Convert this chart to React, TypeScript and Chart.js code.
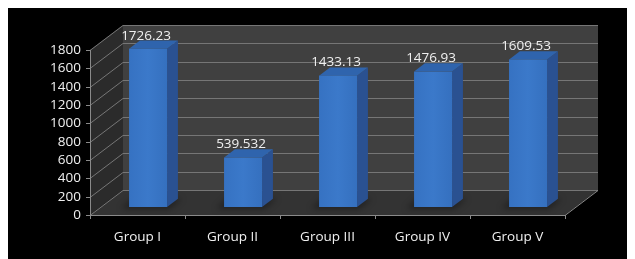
import React, { useEffect, useRef } from "react";
import { Chart, registerables } from "chart.js";

Chart.register(...registerables);

const categories = ["Group I", "Group II", "Group III", "Group IV", "Group V"];
const values = [1726.23, 539.532, 1433.13, 1476.93, 1609.53];
const valueLabels = ["1726.23", "539.532", "1433.13", "1476.93", "1609.53"];
const yMin = 0;
const yMax = 1800;
const yStep = 200;

const DEPTH = { dx: 33, dy: -25 };
const BAR_F1 = 0.32;
const BAR_F2 = 0.65;
const FONT = "'Open Sans', 'Liberation Sans', sans-serif";

const threeD = {
  id: "threeD",
  beforeDatasetsDraw(chart: any) {
    const ctx = chart.ctx;
    const y = chart.scales.y;
    const x = chart.scales.x;
    const L = chart.chartArea.left;
    const R = chart.chartArea.right;
    const T = y.getPixelForValue(yMax);
    const B = y.getPixelForValue(yMin);
    const { dx, dy } = DEPTH;
    ctx.save();
    // left wall
    ctx.fillStyle = "#2b2b2b";
    ctx.beginPath();
    ctx.moveTo(L, T);
    ctx.lineTo(L + dx, T + dy);
    ctx.lineTo(L + dx, B + dy);
    ctx.lineTo(L, B);
    ctx.closePath();
    ctx.fill();
    // back wall
    ctx.fillStyle = "#404040";
    ctx.fillRect(L + dx, T + dy, R - L, B - T);
    // floor
    ctx.fillStyle = "#333333";
    ctx.beginPath();
    ctx.moveTo(L, B);
    ctx.lineTo(L + dx, B + dy);
    ctx.lineTo(R + dx, B + dy);
    ctx.lineTo(R, B);
    ctx.closePath();
    ctx.fill();
    // gridlines
    ctx.strokeStyle = "#767676";
    ctx.lineWidth = 1;
    for (let v = yMin; v <= yMax; v += yStep) {
      const py = Math.round(y.getPixelForValue(v)) + 0.5;
      ctx.beginPath();
      ctx.moveTo(L, py);
      ctx.lineTo(L + dx, py + dy);
      ctx.lineTo(R + dx, py + dy);
      ctx.stroke();
    }
    // axes
    ctx.strokeStyle = "#8a8a8a";
    ctx.beginPath();
    ctx.moveTo(L + 0.5, T);
    ctx.lineTo(L + 0.5, B);
    ctx.moveTo(L, Math.round(B) + 0.5);
    ctx.lineTo(R, Math.round(B) + 0.5);
    ctx.lineTo(R + dx, Math.round(B) + 0.5 + dy);
    ctx.stroke();
    ctx.beginPath();
    for (let v = yMin; v <= yMax; v += yStep) {
      const py = Math.round(y.getPixelForValue(v)) + 0.5;
      ctx.moveTo(L - 4, py);
      ctx.lineTo(L, py);
    }
    const n = categories.length;
    for (let i = 0; i <= n; i++) {
      const px = Math.round(x.getPixelForValue(i - 0.5)) + 0.5;
      ctx.moveTo(px, B);
      ctx.lineTo(px, B + 4);
    }
    ctx.stroke();

    // bars
    const meta = chart.getDatasetMeta(0);
    meta.data.forEach((bar: any, i: number) => {
      const p = bar.getProps(["x", "y", "base", "width"], true);
      const w = p.width;
      const x0 = p.x - w / 2 + BAR_F1 * dx;
      const x1 = x0 + w;
      const yt = p.y + BAR_F1 * dy;
      const yb = p.base + BAR_F1 * dy;
      const ddx = (BAR_F2 - BAR_F1) * dx;
      const ddy = (BAR_F2 - BAR_F1) * dy;
      // shadow on floor
      ctx.save();
      ctx.fillStyle = "rgba(0,0,0,0.35)";
      ctx.filter = "blur(3px)";
      ctx.beginPath();
      ctx.moveTo(x0 - 8, yb + 2);
      ctx.lineTo(x1 + 2, yb + 2);
      ctx.lineTo(x1 + ddx + 4, yb + ddy);
      ctx.lineTo(x0 + ddx - 8, yb + ddy);
      ctx.closePath();
      ctx.fill();
      ctx.restore();
      // side
      ctx.fillStyle = "#2a5191";
      ctx.beginPath();
      ctx.moveTo(x1, yt);
      ctx.lineTo(x1 + ddx, yt + ddy);
      ctx.lineTo(x1 + ddx, yb + ddy);
      ctx.lineTo(x1, yb);
      ctx.closePath();
      ctx.fill();
      // top
      ctx.fillStyle = "#2f64ad";
      ctx.beginPath();
      ctx.moveTo(x0, yt);
      ctx.lineTo(x0 + ddx, yt + ddy);
      ctx.lineTo(x1 + ddx, yt + ddy);
      ctx.lineTo(x1, yt);
      ctx.closePath();
      ctx.fill();
      // front
      const g = ctx.createLinearGradient(x0, 0, x1, 0);
      g.addColorStop(0, "#3672c2");
      g.addColorStop(0.5, "#3b79ca");
      g.addColorStop(1, "#3570bf");
      ctx.fillStyle = g;
      ctx.fillRect(x0, yt, w, yb - yt);
      // label
      ctx.fillStyle = "#f0f0f0";
      ctx.font = `13.5px ${FONT}`;
      ctx.textAlign = "center";
      ctx.textBaseline = "middle";
      ctx.fillText(valueLabels[i], x0 + w / 2 - 2, yt - 13);
    });
    ctx.restore();
  },
};

export default function App() {
  const ref = useRef<HTMLCanvasElement | null>(null);
  useEffect(() => {
    if (!ref.current) return;
    const chart = new Chart(ref.current, {
      type: "bar",
      data: {
        labels: categories,
        datasets: [
          {
            data: values,
            backgroundColor: "rgba(0,0,0,0)",
            borderWidth: 0,
            barPercentage: 0.4,
            categoryPercentage: 1,
          },
        ],
      },
      options: {
        animation: false,
        responsive: false,
        maintainAspectRatio: false,
        devicePixelRatio: 1,
        layout: { padding: { top: 42, right: 70, left: 0, bottom: 0 } },
        plugins: { legend: { display: false }, tooltip: { enabled: false } },
        scales: {
          x: {
            grid: { display: false, drawTicks: false },
            border: { display: false },
            ticks: { color: "#f0f0f0", font: { family: FONT, size: 13.5 }, padding: 14 },
            afterFit: (s: any) => {
              s.height = 44;
            },
          },
          y: {
            min: yMin,
            max: yMax,
            grid: { display: false, drawTicks: false },
            border: { display: false },
            ticks: {
              stepSize: yStep,
              autoSkip: false,
              color: "#f0f0f0",
              font: { family: FONT, size: 13.5 },
              padding: 9,
              callback: (v: any) => String(v),
            },
            afterFit: (s: any) => {
              s.width = 82;
            },
          },
        },
      },
      plugins: [threeD],
    });
    return () => chart.destroy();
  }, []);
  return (
    <div style={{ width: 627, height: 251, background: "#000" }}>
      <canvas ref={ref} width={627} height={251} style={{ display: "block" }} />
    </div>
  );
}
